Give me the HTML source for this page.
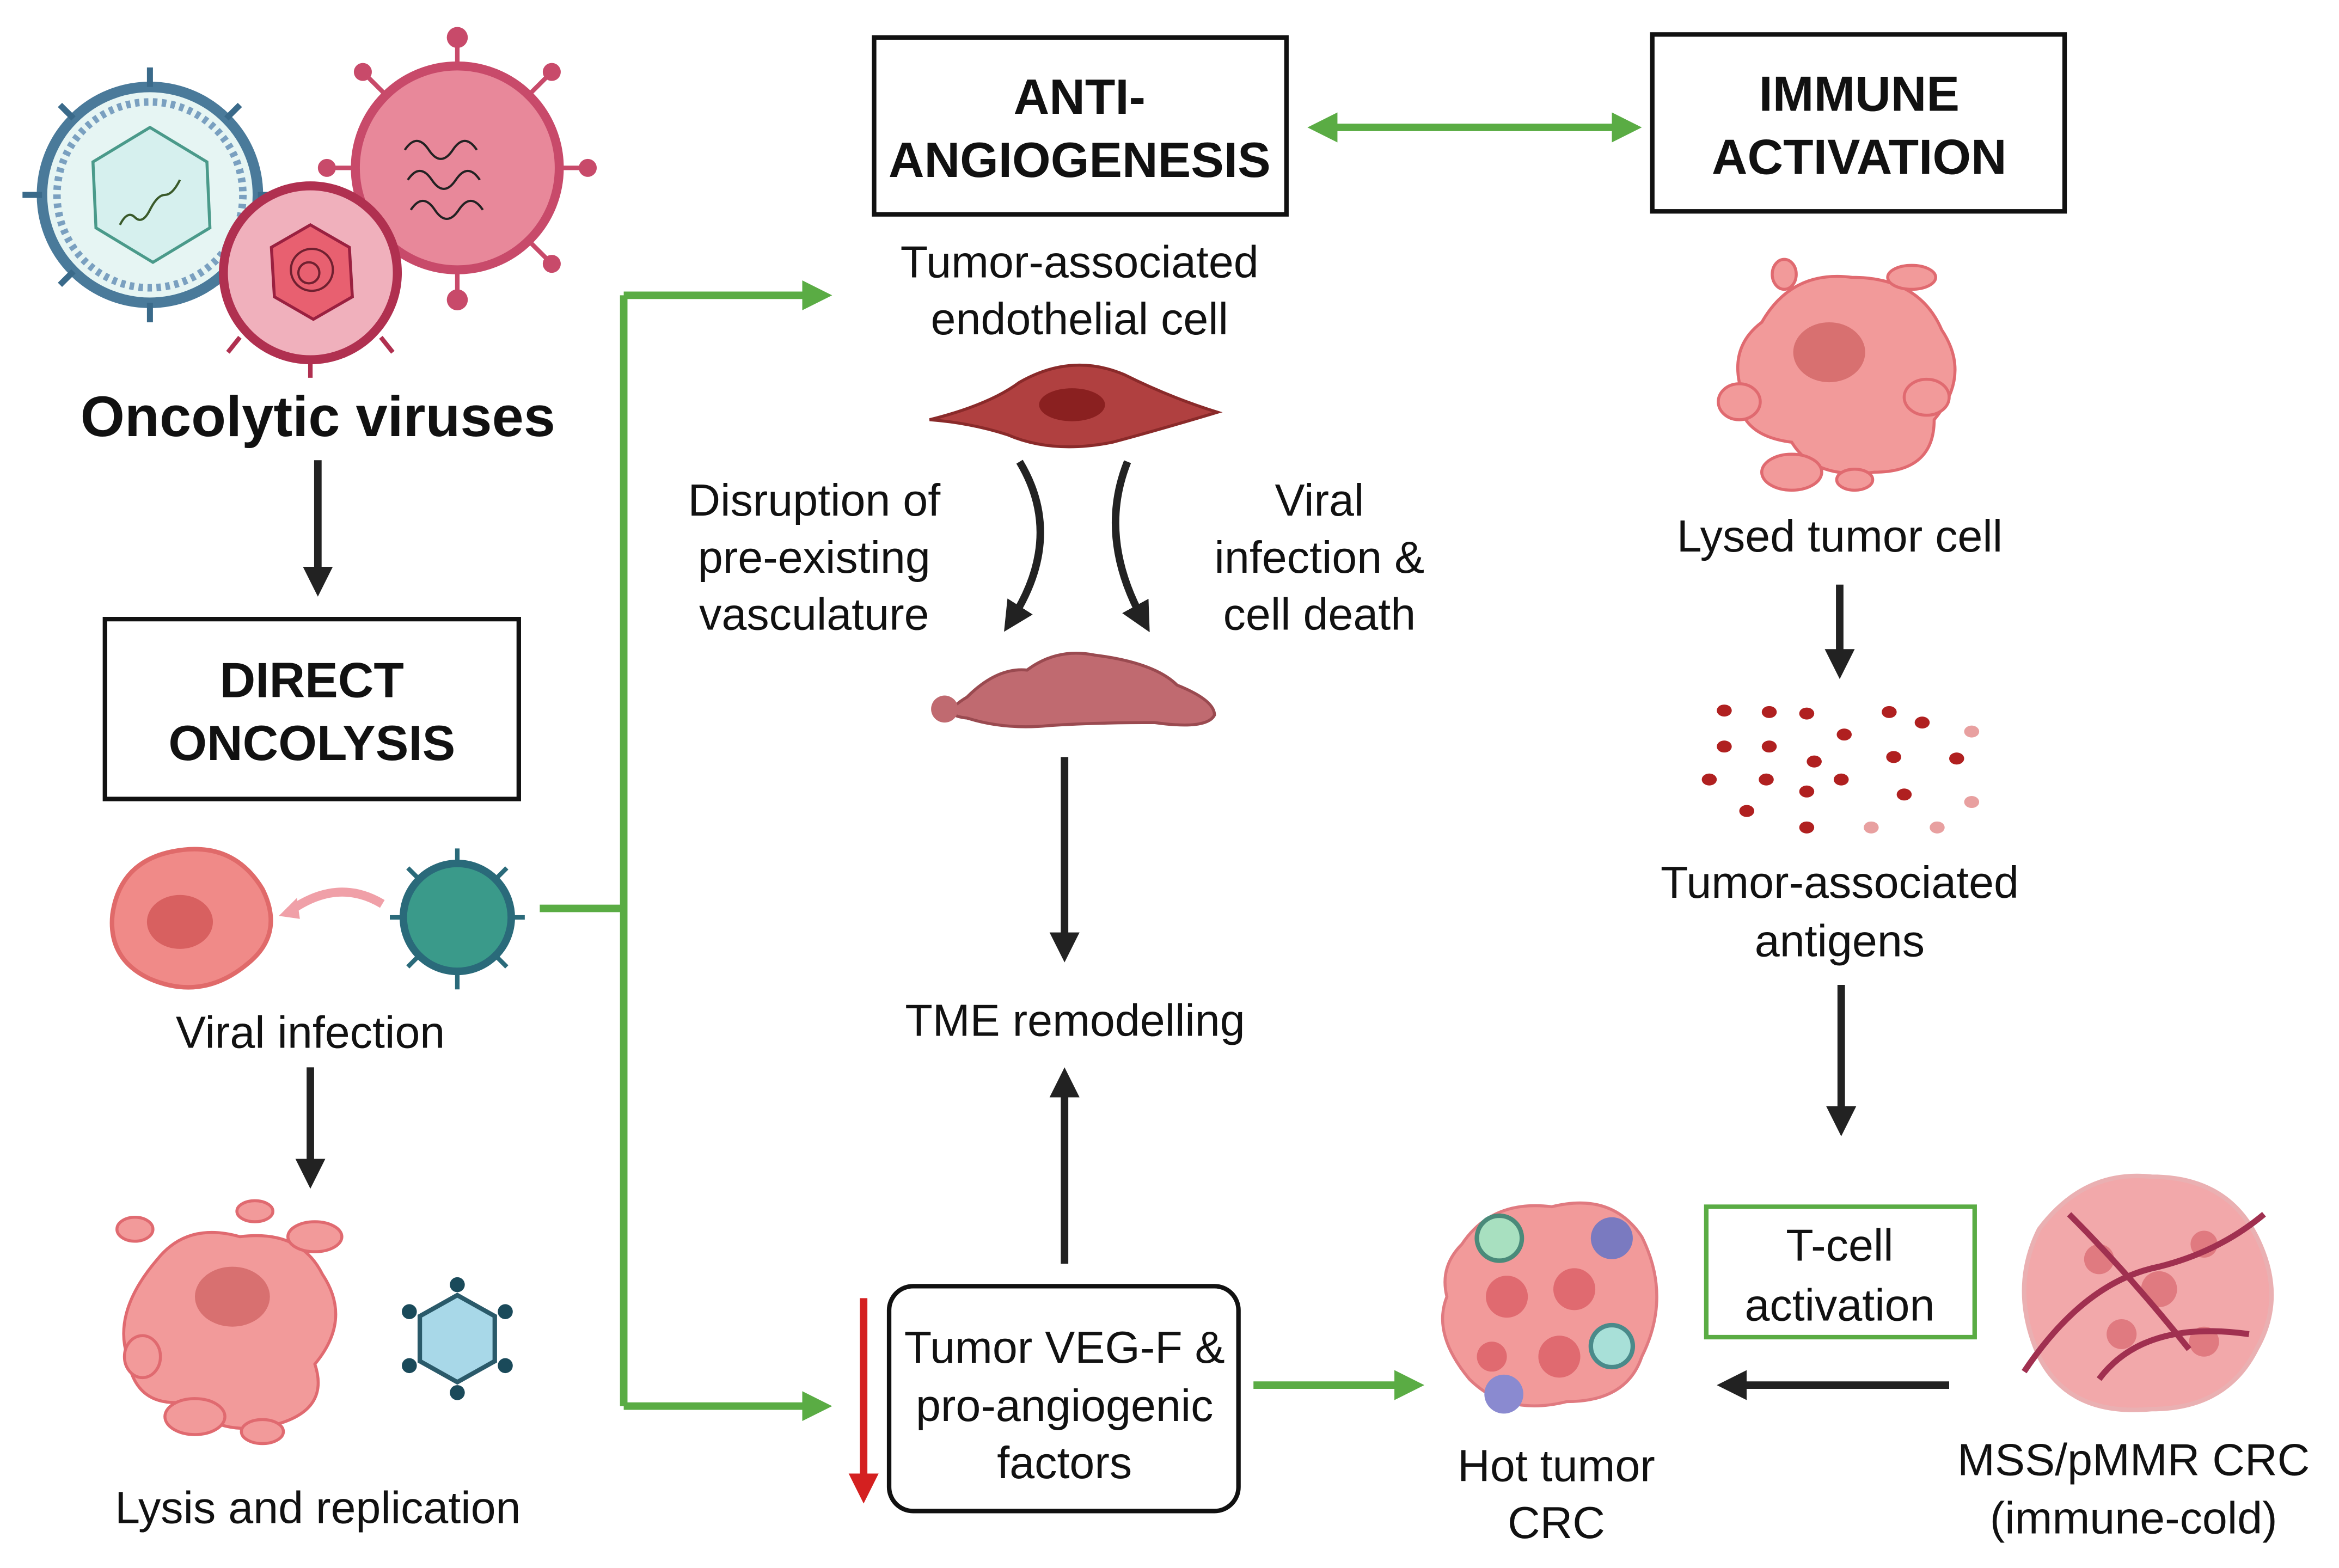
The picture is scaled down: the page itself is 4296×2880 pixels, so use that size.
<!DOCTYPE html>
<html><head><meta charset="utf-8"><style>
html,body{margin:0;padding:0;background:#fff;width:4296px;height:2880px;overflow:hidden}
svg{display:block}
text{font-family:"Liberation Sans",sans-serif;fill:#111;text-anchor:middle}
</style></head><body>
<svg width="4296" height="2880" viewBox="0 0 1560 1046" preserveAspectRatio="none" xmlns="http://www.w3.org/2000/svg">
<defs>
<marker id="ab" markerWidth="4" markerHeight="4" refX="2" refY="2" orient="auto" markerUnits="strokeWidth"><path d="M0,0 L4,2 L0,4 Z" fill="#222"/></marker>
<marker id="ag" markerWidth="4" markerHeight="4" refX="2" refY="2" orient="auto" markerUnits="strokeWidth"><path d="M0,0 L4,2 L0,4 Z" fill="#5aac44"/></marker>
<marker id="ag2" markerWidth="4" markerHeight="4" refX="2" refY="2" orient="auto-start-reverse" markerUnits="strokeWidth"><path d="M0,0 L4,2 L0,4 Z" fill="#5aac44"/></marker>
<marker id="ar" markerWidth="4" markerHeight="4" refX="2" refY="2" orient="auto" markerUnits="strokeWidth"><path d="M0,0 L4,2 L0,4 Z" fill="#d42020"/></marker>
</defs>

<!-- viruses -->
<g>
<circle cx="305" cy="112" r="68" fill="#e8889a" stroke="#c84a6a" stroke-width="6"/>
<g stroke="#c84a6a" stroke-width="3"><line x1="305" y1="44" x2="305" y2="25"/><line x1="373" y1="112" x2="392" y2="112"/><line x1="237" y1="112" x2="218" y2="112"/><line x1="305" y1="180" x2="305" y2="200"/><line x1="352" y1="64" x2="368" y2="48"/><line x1="258" y1="64" x2="242" y2="48"/><line x1="352" y1="160" x2="368" y2="176"/><line x1="258" y1="160" x2="242" y2="176"/></g>
<g fill="#c84a6a"><circle cx="305" cy="25" r="7"/><circle cx="392" cy="112" r="6"/><circle cx="218" cy="112" r="6"/><circle cx="305" cy="200" r="7"/><circle cx="368" cy="48" r="6"/><circle cx="242" cy="48" r="6"/><circle cx="368" cy="176" r="6"/><circle cx="242" cy="176" r="6"/></g>
<path d="M270,100 q8,-12 16,0 t16,0 t16,0 M272,120 q8,-12 16,0 t16,0 t16,0 M274,140 q8,-12 16,0 t16,0 t16,0" stroke="#222" stroke-width="1.5" fill="none"/>
<circle cx="100" cy="130" r="72" fill="#e6f5f3" stroke="#4a7a9a" stroke-width="7"/>
<circle cx="100" cy="130" r="62" fill="none" stroke="#7aa0c0" stroke-width="5" stroke-dasharray="3 3"/>
<g stroke="#3a6a8a" stroke-width="4">
<line x1="100" y1="58" x2="100" y2="45"/><line x1="100" y1="202" x2="100" y2="215"/><line x1="28" y1="130" x2="15" y2="130"/><line x1="172" y1="130" x2="185" y2="130"/><line x1="49" y1="79" x2="40" y2="70"/><line x1="151" y1="79" x2="160" y2="70"/><line x1="49" y1="181" x2="40" y2="190"/><line x1="151" y1="181" x2="160" y2="190"/>
</g>
<polygon points="100,85 138,108 140,152 102,175 64,152 62,108" fill="#d6f0ee" stroke="#4a9a8a" stroke-width="2"/>
<path d="M80,150 q5,-10 10,-5 t10,-5 t10,-10 t10,-10" stroke="#3a5a2a" stroke-width="1.5" fill="none"/>
<circle cx="207" cy="182" r="58" fill="#f0b0bc" stroke="#b03050" stroke-width="6"/>
<g stroke="#b03050" stroke-width="3"><line x1="207" y1="240" x2="207" y2="252"/><line x1="160" y1="225" x2="152" y2="235"/><line x1="254" y1="225" x2="262" y2="235"/></g>
<polygon points="207,150 233,165 235,198 209,213 183,198 181,165" fill="#e86070" stroke="#9a2040" stroke-width="2"/>
<circle cx="208" cy="180" r="14" fill="none" stroke="#702030" stroke-width="1.5"/><circle cx="206" cy="182" r="7" fill="none" stroke="#702030" stroke-width="1.5"/>
</g>
<text x="212" y="291" font-size="38" font-weight="bold">Oncolytic viruses</text>
<line x1="212" y1="307" x2="212" y2="388" stroke="#222" stroke-width="5" marker-end="url(#ab)"/>

<rect x="70" y="413" width="276" height="120" fill="#fff" stroke="#111" stroke-width="3"/>
<text x="208" y="465" font-size="33" font-weight="bold">DIRECT</text>
<text x="208" y="507" font-size="33" font-weight="bold">ONCOLYSIS</text>

<path d="M75,610 q5,-35 40,-42 q40,-8 60,25 q15,30 -10,50 q-30,25 -65,10 q-28,-13 -25,-43z" fill="#f08a88" stroke="#e06a6a" stroke-width="3"/>
<ellipse cx="120" cy="615" rx="22" ry="18" fill="#d86060"/>
<path d="M255,603 q-30,-18 -62,5" stroke="#f0a0a8" stroke-width="6" fill="none"/><path d="M186,611 l12,-12 l2,14z" fill="#f0a0a8"/>
<circle cx="305" cy="612" r="36" fill="#3a9a8a" stroke="#2a6a7a" stroke-width="5"/>
<g stroke="#2a6a7a" stroke-width="3"><line x1="305" y1="576" x2="305" y2="566"/><line x1="305" y1="648" x2="305" y2="660"/><line x1="269" y1="612" x2="260" y2="612"/><line x1="341" y1="612" x2="350" y2="612"/><line x1="280" y1="587" x2="272" y2="579"/><line x1="330" y1="587" x2="338" y2="579"/><line x1="280" y1="637" x2="272" y2="645"/><line x1="330" y1="637" x2="338" y2="645"/></g>
<text x="207" y="699" font-size="30">Viral infection</text>
<line x1="207" y1="712" x2="207" y2="783" stroke="#222" stroke-width="5" marker-end="url(#ab)"/>

<g fill="#f29a9a" stroke="#e06a70" stroke-width="2">
<path d="M105,840 q20,-25 55,-15 q40,-5 55,25 q20,30 -5,60 q10,30 -25,40 q-40,10 -60,-15 q-35,5 -40,-30 q-10,-30 20,-65z"/>
<ellipse cx="90" cy="820" rx="12" ry="8"/><ellipse cx="210" cy="825" rx="18" ry="10"/><ellipse cx="130" cy="945" rx="20" ry="12"/><ellipse cx="95" cy="905" rx="12" ry="14"/><ellipse cx="175" cy="955" rx="14" ry="8"/><ellipse cx="170" cy="808" rx="12" ry="7"/>
</g>
<ellipse cx="155" cy="865" rx="25" ry="20" fill="#d87070"/>
<polygon points="305,864 330,878 330,908 305,922 280,908 280,878" fill="#a8d8e8" stroke="#2a5a6a" stroke-width="3"/>
<g fill="#1a4a5a"><circle cx="305" cy="857" r="5"/><circle cx="337" cy="875" r="5"/><circle cx="337" cy="911" r="5"/><circle cx="305" cy="929" r="5"/><circle cx="273" cy="911" r="5"/><circle cx="273" cy="875" r="5"/></g>
<text x="212" y="1016" font-size="30">Lysis and replication</text>

<!-- green connector -->
<g stroke="#5aac44" stroke-width="5" fill="none">
<path d="M360,606 H416"/>
<path d="M416,197 V938"/>
<line x1="416" y1="197" x2="545" y2="197" marker-end="url(#ag)"/>
<line x1="416" y1="938" x2="545" y2="938" marker-end="url(#ag)"/>
<line x1="882" y1="85" x2="1085" y2="85" marker-start="url(#ag2)" marker-end="url(#ag)"/>
<line x1="836" y1="924" x2="940" y2="924" marker-end="url(#ag)"/>
</g>

<rect x="583" y="25" width="275" height="118" fill="#fff" stroke="#111" stroke-width="3"/>
<text x="720" y="76" font-size="33" font-weight="bold">ANTI-</text>
<text x="720" y="118" font-size="33" font-weight="bold">ANGIOGENESIS</text>
<rect x="1102" y="23" width="275" height="118" fill="#fff" stroke="#111" stroke-width="3"/>
<text x="1240" y="74" font-size="33" font-weight="bold">IMMUNE</text>
<text x="1240" y="116" font-size="33" font-weight="bold">ACTIVATION</text>

<text x="720" y="185" font-size="30">Tumor-associated</text>
<text x="720" y="223" font-size="30">endothelial cell</text>
<path d="M620,280 q40,-10 60,-25 q35,-20 70,-5 q30,15 62,25 q-40,12 -70,20 q-40,8 -70,-5 q-25,-8 -52,-10z" fill="#b04040" stroke="#8a2a2a" stroke-width="2"/>
<ellipse cx="715" cy="270" rx="22" ry="11" fill="#8a2020"/>
<path d="M680,308 q30,50 -5,105" stroke="#222" stroke-width="5" fill="none" marker-end="url(#ab)"/>
<path d="M752,308 q-20,50 10,105" stroke="#222" stroke-width="5" fill="none" marker-end="url(#ab)"/>
<text x="543" y="344" font-size="30">Disruption of</text>
<text x="543" y="382" font-size="30">pre-existing</text>
<text x="543" y="420" font-size="30">vasculature</text>
<text x="880" y="344" font-size="30">Viral</text>
<text x="880" y="382" font-size="30">infection &amp;</text>
<text x="880" y="420" font-size="30">cell death</text>
<path d="M645,465 q20,-20 40,-18 q20,-15 45,-10 q40,5 55,20 q25,10 25,20 q-5,10 -40,5 q-40,0 -70,2 q-30,3 -55,-5 q-20,-2 0,-14z" fill="#c06a70" stroke="#9a4a50" stroke-width="2"/>
<ellipse cx="630" cy="473" rx="9" ry="9" fill="#c06a70"/>
<line x1="710" y1="505" x2="710" y2="632" stroke="#222" stroke-width="5" marker-end="url(#ab)"/>
<text x="717" y="691" font-size="30">TME remodelling</text>
<line x1="710" y1="843" x2="710" y2="722" stroke="#222" stroke-width="5" marker-end="url(#ab)"/>
<rect x="593" y="858" width="233" height="150" rx="16" fill="#fff" stroke="#111" stroke-width="3"/>
<text x="710" y="909" font-size="30">Tumor VEG-F &amp;</text>
<text x="710" y="948" font-size="30">pro-angiogenic</text>
<text x="710" y="986" font-size="30">factors</text>
<line x1="576" y1="866" x2="576" y2="993" stroke="#d42020" stroke-width="5" marker-end="url(#ar)"/>

<!-- right column -->
<g fill="#f29a9a" stroke="#e06a70" stroke-width="2">
<path d="M1175,215 q20,-35 60,-30 q45,0 60,35 q20,30 -5,60 q0,35 -40,35 q-40,5 -55,-20 q-40,-5 -35,-40 q-5,-25 15,-40z"/>
<ellipse cx="1190" cy="183" rx="8" ry="10"/><ellipse cx="1275" cy="185" rx="16" ry="8"/><ellipse cx="1160" cy="268" rx="14" ry="12"/><ellipse cx="1195" cy="315" rx="20" ry="12"/><ellipse cx="1285" cy="265" rx="15" ry="12"/><ellipse cx="1237" cy="320" rx="12" ry="7"/>
</g>
<ellipse cx="1220" cy="235" rx="24" ry="20" fill="#d87070"/>
<text x="1227" y="368" font-size="30">Lysed tumor cell</text>
<line x1="1227" y1="390" x2="1227" y2="443" stroke="#222" stroke-width="5" marker-end="url(#ab)"/>
<g fill="#b02020">
<ellipse cx="1150" cy="474" rx="5" ry="4"/><ellipse cx="1180" cy="475" rx="5" ry="4"/><ellipse cx="1205" cy="476" rx="5" ry="4"/><ellipse cx="1260" cy="475" rx="5" ry="4"/><ellipse cx="1282" cy="482" rx="5" ry="4"/><ellipse cx="1150" cy="498" rx="5" ry="4"/><ellipse cx="1180" cy="498" rx="5" ry="4"/><ellipse cx="1230" cy="490" rx="5" ry="4"/><ellipse cx="1210" cy="508" rx="5" ry="4"/><ellipse cx="1263" cy="505" rx="5" ry="4"/><ellipse cx="1305" cy="506" rx="5" ry="4"/><ellipse cx="1140" cy="520" rx="5" ry="4"/><ellipse cx="1178" cy="520" rx="5" ry="4"/><ellipse cx="1228" cy="520" rx="5" ry="4"/><ellipse cx="1205" cy="528" rx="5" ry="4"/><ellipse cx="1270" cy="530" rx="5" ry="4"/><ellipse cx="1165" cy="541" rx="5" ry="4"/><ellipse cx="1205" cy="552" rx="5" ry="4"/>
</g>
<g fill="#e8a0a0"><ellipse cx="1315" cy="488" rx="5" ry="4"/><ellipse cx="1315" cy="535" rx="5" ry="4"/><ellipse cx="1248" cy="552" rx="5" ry="4"/><ellipse cx="1292" cy="552" rx="5" ry="4"/></g>
<text x="1227" y="599" font-size="30">Tumor-associated</text>
<text x="1227" y="638" font-size="30">antigens</text>
<line x1="1228" y1="657" x2="1228" y2="748" stroke="#222" stroke-width="5" marker-end="url(#ab)"/>
<rect x="1138" y="805" width="179" height="87" fill="#fff" stroke="#5aac44" stroke-width="3"/>
<text x="1227" y="841" font-size="30">T-cell</text>
<text x="1227" y="881" font-size="30">activation</text>
<line x1="1300" y1="924" x2="1155" y2="924" stroke="#222" stroke-width="5" marker-end="url(#ab)"/>

<!-- hot tumor -->
<g fill="#f29a9a" stroke="#e07a80" stroke-width="2">
<path d="M975,830 q20,-30 60,-25 q40,-10 60,20 q20,40 0,80 q-10,30 -50,30 q-40,10 -65,-15 q-25,-30 -15,-55 q-5,-20 10,-35z"/>
</g>
<g fill="#e06a70"><circle cx="1005" cy="865" r="14"/><circle cx="1050" cy="860" r="14"/><circle cx="1040" cy="905" r="14"/><circle cx="995" cy="905" r="10"/></g>
<circle cx="1000" cy="826" r="15" fill="#a8e0c0" stroke="#4a8a7a" stroke-width="3"/>
<circle cx="1075" cy="826" r="14" fill="#7a7ac0"/>
<circle cx="1075" cy="898" r="14" fill="#a8e0d8" stroke="#4a8a8a" stroke-width="3"/>
<circle cx="1003" cy="930" r="13" fill="#8a8ad0"/>
<text x="1038" y="988" font-size="30">Hot tumor</text>
<text x="1038" y="1026" font-size="30">CRC</text>

<!-- cold tumor -->
<path d="M1360,820 q30,-40 75,-35 q50,0 70,40 q20,40 0,75 q-20,40 -70,40 q-55,5 -75,-35 q-20,-45 0,-85z" fill="#f2a8aa" stroke="#eab0b2" stroke-width="3"/>
<g fill="#e07a80"><circle cx="1400" cy="840" r="10"/><circle cx="1440" cy="860" r="12"/><circle cx="1470" cy="830" r="9"/><circle cx="1415" cy="890" r="10"/><circle cx="1470" cy="895" r="10"/></g>
<path d="M1350,915 q40,-60 90,-70 q40,-10 70,-35 M1380,810 q40,40 80,90 M1400,920 q30,-40 100,-30" stroke="#a03050" stroke-width="4" fill="none"/>
<text x="1423" y="984" font-size="30">MSS/pMMR CRC</text>
<text x="1423" y="1023" font-size="30">(immune-cold)</text>
</svg>
</body></html>
